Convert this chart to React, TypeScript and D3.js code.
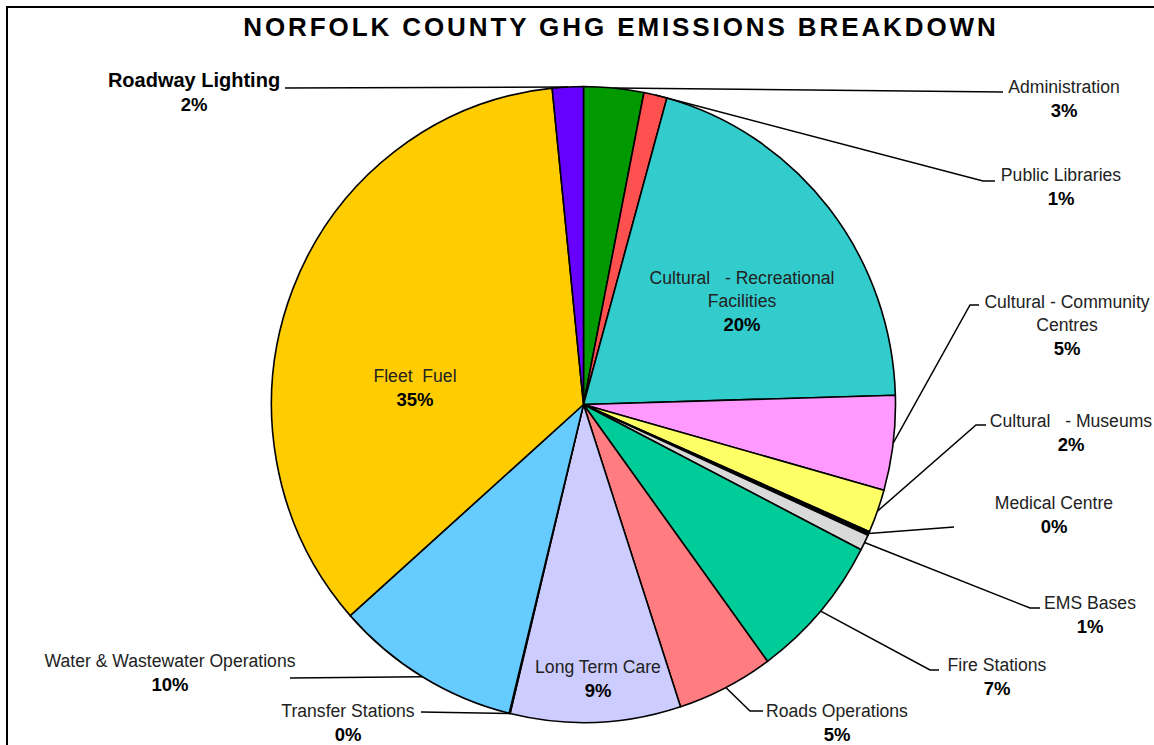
import React, { useEffect, useRef } from 'react';
import * as d3 from 'd3';

// values (percent of total emissions)
const categories = [
  'Administration', 'Public Libraries', 'Cultural  - Recreational Facilities',
  'Cultural - Community Centres', 'Cultural  - Museums', 'Medical Centre', 'EMS Bases',
  'Fire Stations', 'Roads Operations', 'Long Term Care', 'Transfer Stations',
  'Water & Wastewater Operations', 'Fleet Fuel', 'Roadway Lighting',
];
const shares = [3.1, 1.2, 20.2, 4.8, 2.2, 0.2, 0.8, 7.4, 5.0, 8.8, 0.05, 9.6, 34.9, 1.6];
const colors = [
  '#009900', '#ff5050', '#33cccc', '#ff99ff', '#ffff66', '#000000', '#d9d9d9',
  '#00cc99', '#ff7c80', '#ccccff', '#000000', '#66ccff', '#ffcc00', '#6600ff',
];

// label layout: text lines, centre x, first baseline, leader line points (after the arc point)
const labelLayout = [
  { lines: ['Administration'], x: 1064, y: 93, pts: [[1003, 92]] },
  { lines: ['Public Libraries'], x: 1061, y: 181, pts: [[983, 181], [995, 181]] },
  { lines: ['Cultural   - Recreational', 'Facilities'], x: 742, y: 284, pts: null },
  { lines: ['Cultural - Community', 'Centres'], x: 1067, y: 308, pts: [[970, 305], [979, 305]] },
  { lines: ['Cultural   - Museums'], x: 1071, y: 427, pts: [[976, 425], [986, 425]] },
  { lines: ['Medical Centre'], x: 1054, y: 509, pts: [[954, 527]] },
  { lines: ['EMS Bases'], x: 1090, y: 609, pts: [[1030, 608], [1040, 608]] },
  { lines: ['Fire Stations'], x: 997, y: 671, pts: [[930, 670], [939, 670]] },
  { lines: ['Roads Operations'], x: 837, y: 717, pts: [[750, 711], [763, 711]] },
  { lines: ['Long Term Care'], x: 598, y: 673, pts: null },
  { lines: ['Transfer Stations'], x: 348, y: 717, pts: [[421, 712]] },
  { lines: ['Water & Wastewater Operations'], x: 170, y: 667, pts: [[290, 678]] },
  { lines: ['Fleet  Fuel'], x: 415, y: 382, pts: null },
  { lines: ['Roadway Lighting'], x: 194, y: 87, pts: [[285, 88]], bold: true },
];

const App: React.FC = () => {
  const ref = useRef<SVGSVGElement>(null);

  useEffect(() => {
    if (!ref.current) return;
    const svg = d3.select(ref.current);
    svg.selectAll('*').remove();

    const cx = 583.5, cy = 404.5, rx = 312, ry = 318;
    const font = '"Liberation Sans", Arial, sans-serif';

    svg.append('rect')
      .attr('x', 7).attr('y', 7).attr('width', 1170).attr('height', 760)
      .attr('fill', '#fff').attr('stroke', '#000').attr('stroke-width', 2);

    svg.append('text')
      .attr('x', 621).attr('y', 36)
      .attr('text-anchor', 'middle')
      .style('font-family', font).style('font-size', '26px').style('font-weight', 'bold')
      .style('letter-spacing', '2.9px')
      .text('NORFOLK COUNTY GHG EMISSIONS BREAKDOWN');

    const data = categories.map((c, i) => ({ name: c, value: shares[i], color: colors[i] }));
    const total = d3.sum(shares);
    const pct = d3.format('.0%');

    const pie = d3.pie<typeof data[0]>().value(d => d.value).sort(null);
    const arcs = pie(data);
    const arc = d3.arc<d3.PieArcDatum<typeof data[0]>>().innerRadius(0).outerRadius(rx);

    const g = svg.append('g')
      .attr('transform', `translate(${cx},${cy}) scale(1,${ry / rx})`);
    g.selectAll('path')
      .data(arcs)
      .enter().append('path')
      .attr('d', arc)
      .attr('fill', d => d.data.color)
      .attr('stroke', '#000')
      .attr('stroke-width', 1.6)
      .attr('stroke-linejoin', 'round');

    // leader lines and labels
    arcs.forEach((a, i) => {
      const lay = labelLayout[i];
      const mid = (a.startAngle + a.endAngle) / 2;
      if (lay.pts) {
        const start: [number, number] = [cx + rx * Math.sin(mid), cy - ry * Math.cos(mid)];
        const line = d3.line();
        svg.append('path')
          .attr('d', line([start, ...(lay.pts as [number, number][])]))
          .attr('fill', 'none')
          .attr('stroke', '#000')
          .attr('stroke-width', 1.5);
      }
      const t = svg.append('text')
        .attr('text-anchor', 'middle')
        .attr('xml:space', 'preserve')
        .style('white-space', 'pre')
        .style('font-family', font)
        .style('fill', '#000');
      lay.lines.forEach((ln, k) => {
        t.append('tspan')
          .attr('x', lay.x).attr('y', lay.y + k * 23)
          .style('font-size', lay.bold ? '20px' : '17.6px')
          .style('font-weight', lay.bold ? 'bold' : 'normal')
          .style('fill', lay.bold ? '#000' : '#222')
          .text(ln);
      });
      t.append('tspan')
        .attr('x', lay.x).attr('y', lay.y + lay.lines.length * 23 + 1)
        .style('font-size', '18.5px')
        .style('font-weight', 'bold')
        .text(pct(a.data.value / total));
    });
  }, []);

  return (
    <svg ref={ref} width={1154} height={745}
      style={{ position: 'absolute', left: 0, top: 0, display: 'block' }} />
  );
};

export default App;
